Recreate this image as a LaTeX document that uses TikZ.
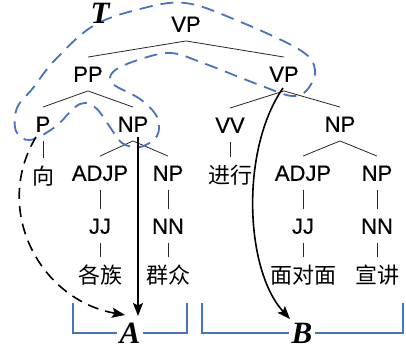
\documentclass[tikz,border=0pt]{standalone}
\usepackage{fontspec}
\setmainfont{Liberation Serif}
\newfontfamily\tfont{Liberation Sans}[FakeBold=0.5]
\newfontfamily\cjk{Noto Sans CJK SC}
\usetikzlibrary{arrows.meta}
\definecolor{tblue}{HTML}{4472C4}
\begin{document}
\begin{tikzpicture}[x=1pt,y=-1pt,
  tn/.style={font=\tfont\fontsize{22}{22}\selectfont, text height=15.5pt, text depth=0pt, inner xsep=1pt, inner ysep=9pt},
  cn/.style={font=\cjk\fontsize{22}{22}\selectfont, text height=17pt, text depth=0pt, inner xsep=0pt, inner ysep=9pt},
  edge/.style={line width=0.8pt, black!85},
  lab/.style={font=\bfseries\itshape\fontsize{31}{31}\selectfont, text height=21pt, text depth=0pt, inner xsep=2pt, inner ysep=0pt},
  bracket/.style={draw=tblue, line width=1.6pt},
  tdash/.style={draw=tblue, line width=1.8pt, dash pattern=on 13pt off 8pt},
  arr/.style={draw=black, line width=1.6pt, -{Stealth[length=13pt,width=10pt,inset=2.5pt]}},
  darr/.style={draw=black, line width=1.6pt, dash pattern=on 11pt off 7pt, -{Stealth[length=13pt,width=10pt,inset=2.5pt]}}]
\useasboundingbox (0,0) rectangle (406,354);

% tree nodes
\node[tn] (vp0) at (186,24) {VP};
\node[tn] (pp) at (88,74) {PP};
\node[tn] (vp1) at (284,74) {VP};
\node[tn] (p) at (43,124) {P};
\node[tn] (npa) at (133,124) {NP};
\node[tn] (vv) at (230,125) {VV};
\node[tn] (npb) at (340,124) {NP};
\node[cn] (xiang) at (43,176) {向};
\node[tn] (adjpa) at (100,173) {ADJP};
\node[tn] (npc) at (168,173) {NP};
\node[cn] (jinxing) at (230,175) {进行};
\node[tn] (adjpb) at (303,173) {ADJP};
\node[tn] (npd) at (377,173) {NP};
\node[tn] (jja) at (100,226) {JJ};
\node[tn] (nna) at (168,226) {NN};
\node[tn] (jjb) at (303,226) {JJ};
\node[tn] (nnb) at (377,226) {NN};
\node[cn] (gezu) at (100,275) {各族};
\node[cn] (qunzhong) at (168,275) {群众};
\node[cn] (mdm) at (303,275) {面对面};
\node[cn] (xj) at (377,275) {宣讲};

% tree edges
\draw[edge] (pp.north) -- (vp0.south) -- (vp1.north);
\draw[edge] (p.north) -- (pp.south) -- (npa.north);
\draw[edge] (vv.north) -- (vp1.south) -- (npb.north);
\draw[edge] (p.south) -- (xiang.north);
\draw[edge] (adjpa.north) -- (npa.south) -- (npc.north);
\draw[edge] (vv.south) -- (jinxing.north);
\draw[edge] (adjpb.north) -- (npb.south) -- (npd.north);
\draw[edge] (adjpa.south) -- (jja.north);
\draw[edge] (npc.south) -- (nna.north);
\draw[edge] (adjpb.south) -- (jjb.north);
\draw[edge] (npd.south) -- (nnb.north);
\draw[edge] (jja.south) -- (gezu.north);
\draw[edge] (nna.south) -- (qunzhong.north);
\draw[edge] (jjb.south) -- (mdm.north);
\draw[edge] (nnb.south) -- (xj.north);

% T region
\draw[tdash] plot[smooth cycle, tension=0.6] coordinates {
  (93,26) (140,9) (185,3) (236,20) (300,50) (315,70) (307,90) (292,96)
  (262,86) (203,63) (170,53) (135,61) (113,72) (113,84) (140,99) (157,117)
  (157,136) (140,147) (122,143) (110,127) (97,109) (85,103) (74,108)
  (55,127) (30,140) (16,131) (17,108) (33,88) (55,60)};
\node[lab] (T) at (100,13) {T};

% brackets
\node[lab] (A) at (130,333) {A};
\node[lab] (B) at (302,333) {B};
\coordinate (a1) at (73,303);
\coordinate (a2) at (187,303);
\coordinate (b1) at (202,303);
\coordinate (b2) at (403,303);
\draw[bracket] (a1) |- (A.west);
\draw[bracket] (A.east) -| (a2);
\draw[bracket] (b1) |- (B.west);
\draw[bracket] (B.east) -| (b2);

% arrows
\coordinate (aStart) at (138,137);
\coordinate (aTip) at (138,316);
\coordinate (dStart) at (36,137);
\coordinate (dTip) at (125,315);
\coordinate (bStart) at (283,88);
\coordinate (bTip) at (290,319);
\draw[arr] (aStart) -- (aTip);
\draw[darr] (dStart) .. controls (-8,210) and (40,300) .. (dTip);
\draw[arr] (bStart) .. controls (240,150) and (245,270) .. (bTip);
\end{tikzpicture}
\end{document}
